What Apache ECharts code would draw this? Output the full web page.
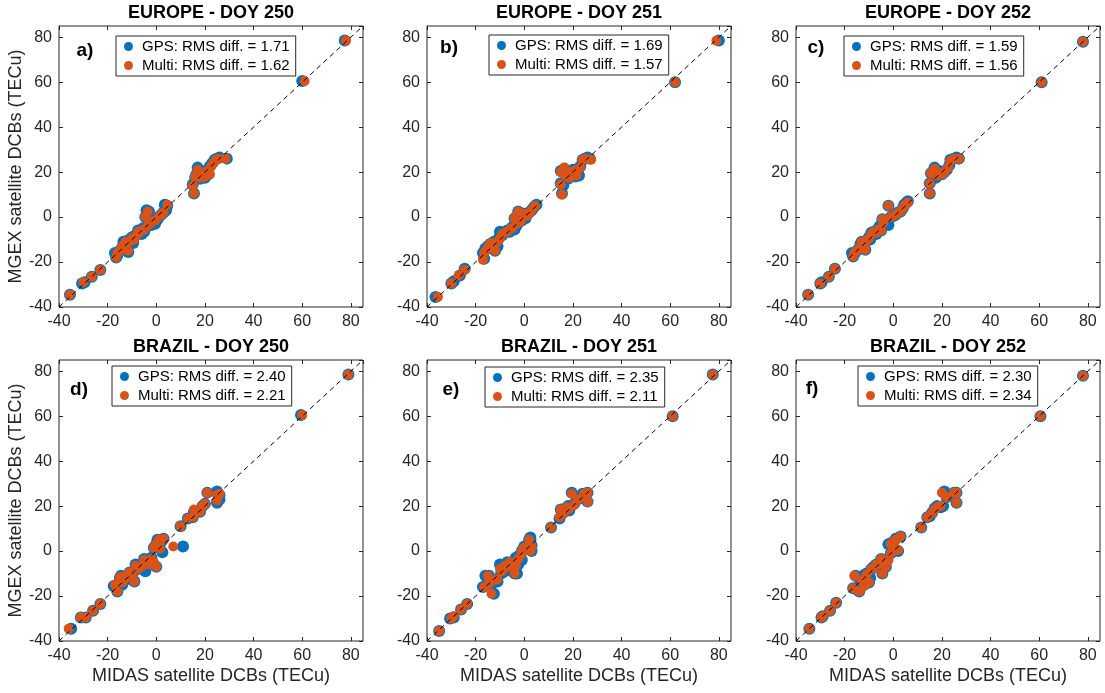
<!DOCTYPE html>
<html>
<head>
<meta charset="utf-8">
<title>Satellite DCB comparison</title>
<script src="https://cdn.jsdelivr.net/npm/echarts@6/dist/echarts.min.js"></script>
<style>
  html, body { margin: 0; padding: 0; background: #ffffff; }
  #chart { width: 1105px; height: 693px; }
</style>
</head>
<body>
<div id="chart"></div>
<script>
// ---- data ---------------------------------------------------------------
const panelTitles = ['EUROPE - DOY 250', 'EUROPE - DOY 251', 'EUROPE - DOY 252',
                     'BRAZIL - DOY 250', 'BRAZIL - DOY 251', 'BRAZIL - DOY 252'];
const panelLetters = ['a)', 'b)', 'c)', 'd)', 'e)', 'f)'];
const rmsGps   = ['1.71', '1.69', '1.59', '2.40', '2.35', '2.30'];
const rmsMulti = ['1.62', '1.57', '1.56', '2.21', '2.11', '2.34'];
const axisMin = -40;
const axisMax = 85;
const axisStep = 20;
const xAxisTitle = 'MIDAS satellite DCBs (TECu)';
const yAxisTitle = 'MGEX satellite DCBs (TECu)';
// 1:1 reference line end points
const diagonal = [-40, 85];

// [MIDAS, MGEX] satellite DCB pairs in TECu
const europe250Gps = [
  [-35.5,-34.5],[-30.5,-29.5],[-29.5,-29],[-26.5,-26.5],[-23,-23.5],
  [-17,-16],[-16.5,-18],[-16,-17],[-15,-15],[-14,-13.5],[-13.5,-11],[-13,-12.5],[-12,-10.5],[-11.5,-15.5],[-11,-12],
  [-10,-9],[-9.5,-11.5],[-9,-8.5],[-8,-7.5],[-7.5,-6],[-7,-7],[-6,-7.5],[-5.5,-5],[-5,-6.5],[-4.5,0],[-4,3],[-3.5,-4],
  [-3,2.5],[-2.5,-3],[-2,-3.5],[-1,-2],[-0.5,-3],[0.5,-1],[1,0],[2,1],[3,2],[3.5,5.5],[4,3],[4.5,5],
  [15,14.5],[15.5,10.5],[16,17.5],[16.5,19],[17,22],[17.5,20],[18,17],[19,18.5],[20,17.5],[21,21],[21.5,19],[22,22.5],
  [23,24],[24,25.5],[25,26],[26,26.5],[29,26],
  [60,60.5],[77.5,78.5]
];
const europe250Multi = [
  [-35.5,-34.5],[-30,-29],[-26.5,-26.5],[-23,-23.5],
  [-16.5,-18],[-16,-16],[-15,-15],[-14,-13],[-13,-12],[-12.5,-11],[-11.5,-15],[-11,-11],[-10,-9.5],[-9,-10],[-8,-8],
  [-7.5,-6.5],[-7,-7],[-6,-6],[-5,-5.5],[-4.5,0],[-3.5,2.5],[-3.5,-4],[-2.5,-3],[-1.5,-2],[-0.5,-1.5],[1,0],[2,1],[3,2],[4.5,5.5],
  [15,14],[15.5,10.5],[16,18],[17,21],[17,19.5],[18,17.5],[19,18],[20,18],[21,20.5],[22,19],[22.5,22.5],[23.5,24],
  [24.5,25.5],[25.5,26],[28.5,26],
  [61,60.5],[78,78.5]
];
const europe251Gps = [
  [-36.5,-35.5],[-30,-29.5],[-29,-28.5],[-26.5,-26],[-24.5,-23],
  [-17,-16],[-16.5,-18.5],[-16,-14],[-15,-13],[-14,-12],[-13.5,-14],[-12.5,-11],[-12,-15],[-11,-13],[-10.5,-9.5],
  [-10,-6.5],[-9,-8],[-8,-7],[-7,-6],[-6,-6.5],[-5,-4.5],[-4,-5.5],[-4,-0.5],[-3,-3.5],[-2.5,2.5],[-2,-2],[-1,-1.5],
  [0,1.5],[0.5,-0.5],[1,1],[2,2],[3,3],[4,4.5],[5,5.5],
  [15,15],[15,20.5],[15.5,10.5],[16,14],[16.5,21.5],[17.5,18],[18,17],[19,19],[20,21],[21,18],[22,20],[22.5,18.5],
  [23,22.5],[24,25.5],[25,26],[26,26.5],[27,26],
  [62,60],[80,78.5]
];
const europe251Multi = [
  [-35.5,-35.5],[-30,-29.5],[-27,-26],[-24.5,-23.5],
  [-17,-19],[-16.5,-16],[-15.5,-14.5],[-14.5,-12.5],[-13.5,-11.5],[-12.5,-13],[-12,-15],[-11,-11],[-10,-9.5],[-9,-7.5],
  [-8,-7],[-7,-6.5],[-6,-5.5],[-5,-5],[-4,-0.5],[-3,-3],[-2.5,2.5],[-1.5,-2],[0,1.5],[1,0.5],[2,1.5],[3,3],[4.5,5],
  [15,14.5],[15,20],[15.5,10],[16.5,22],[17,18.5],[18.5,17.5],[19.5,20],[20.5,20.5],[21.5,18.5],[22,21],[23,22],
  [24,25.5],[25.5,26],[27.5,25.5],
  [62,60],[79,78.5]
];
const europe252Gps = [
  [-35,-34.5],[-30,-29.5],[-29.5,-29],[-26.5,-26.5],[-24,-23],
  [-17,-16],[-16.5,-17.5],[-15.5,-15.5],[-14.5,-14.5],[-13.5,-12],[-13,-11],[-12,-12.5],[-11.5,-14.5],[-11,-10.5],
  [-10,-9],[-9.5,-10],[-9,-7],[-8,-6.5],[-7,-7.5],[-6,-5],[-5.5,-4],[-5,-6],[-4.5,-1],[-4,-2],[-3,-3],[-2,5],[-2,-3.5],
  [-1,0],[0,0.5],[1,1],[2,2],[3,2.5],[4,4],[4.5,5.5],[5.5,6.5],[6,7],
  [15,10.5],[15,15],[15.5,19.5],[16.5,20.5],[17,22],[17.5,17.5],[18,18.5],[19,20.5],[20,19],[21,20],[22,21],[23,23],
  [23.5,25.5],[25,26],[26,26.5],[27,26],
  [61,60],[78,78]
];
const europe252Multi = [
  [-35,-34.5],[-30,-29.5],[-26.5,-26.5],[-24,-23],
  [-16.5,-17.5],[-16,-16],[-15,-15],[-14,-14],[-13,-11],[-12,-12.5],[-11.5,-14.5],[-11,-10.5],[-10,-9.5],[-9,-7.5],
  [-8,-6.5],[-7,-7],[-6,-5.5],[-5,-6],[-4.5,-1],[-4,-2.5],[-2,5],[-1,0],[0,0.5],[1.5,1.5],[3,2.5],[4,4],[5,5.5],[6,6.5],
  [15,10.5],[15,15],[15.5,19.5],[17,21.5],[18,18.5],[19,19.5],[20,19],[21,20],[22.5,22],[23.5,25],[25,26],[27,26],
  [61,60],[78,78]
];
const brazil250Gps = [
  [-35,-34.5],[-31,-29.5],[-29,-29.5],[-26,-26.5],[-23,-23.5],
  [-17.5,-15.5],[-16,-18],[-15,-12],[-14.5,-11],[-14,-15],[-13,-13],[-12,-11],[-11,-9.5],[-10,-11],[-9,-13.5],
  [-8.5,-6],[-7.5,-8],[-6,-7],[-5,-3.5],[-4.5,-9],[-4,-4.5],[-3,-6],[-2,-3],[-1.5,-5],[-1,1.5],[0,-7],[0,3],[0.5,5],
  [1,2],[2,4],[2.5,-0.5],[3,5.5],
  [11,2],
  [10,11],[13,14.5],[15,15],[15.5,17.5],[18,17.5],[19,20],[20,21],[21,26],[25,21.5],[25,26.5],[26,25],[26,23],
  [59.5,60.5],[79,78.5]
];
const brazil250Multi = [
  [-36,-34.5],[-31,-29.5],[-29,-29.5],[-26,-26.5],[-23,-23.5],
  [-17,-15],[-16,-18],[-15,-11.5],[-14,-14],[-13,-12.5],[-12,-10.5],[-11,-9.5],[-10,-11],[-9,-13.5],[-8.5,-6.5],
  [-7.5,-8],[-6,-7],[-5,-4],[-4,-5],[-3,-6],[-2,-3.5],[-1,-5],[0,-7],[-1,1.5],[0,3],[1,5],[1.5,1],[2,4.5],[3,5.5],
  [7,2],
  [10,11],[13,14.5],[15,15],[15.5,18.5],[18,17.5],[19,20],[20,21],[21,26],[25,22.5],[25,25],[26,25.5],
  [60,60.5],[79,78.5]
];
const brazil251Gps = [
  [-35,-35.5],[-30.5,-30],[-29,-29.5],[-26,-26],[-23.5,-23.5],
  [-17,-16],[-16,-11],[-15,-14],[-14.5,-11],[-13.5,-15],[-12.5,-19],[-12,-13],[-11,-13.5],[-10,-6],[-9.5,-10],
  [-9,-8],[-8,-9],[-7,-5],[-6,-7],[-5,-5.5],[-4,-10],[-3.5,-3],[-3,-10],[-2.5,-6],[-2,-2],[-1,-4],[-1,0],[0,2],[1,1],
  [2,5],[2.5,6],[3,0],[3,2.5],
  [11,10.5],
  [14.5,14.5],[15,18.5],[16,17],[17,19],[18,20],[18.5,18],[19.5,26],[20.5,21],[22,23],[24,25.5],[25,25.5],[26,26],[26,22],
  [61,60],[77.5,78.5]
];
const brazil251Multi = [
  [-35,-35.5],[-30,-30],[-29,-29],[-26,-26],[-23.5,-23.5],
  [-16.5,-16],[-15,-11],[-14.5,-14.5],[-13.5,-19],[-12.5,-13],[-11,-12.5],[-10,-8],[-9,-9],[-8,-6.5],[-7,-7],[-6,-5],
  [-5,-5.5],[-4,-10],[-3.5,-6.5],[-2.5,-3.5],[-1.5,-2],[-1,0],[0,1.5],[1,1],[2,5],[2.5,0],[3,2],
  [11,10.5],
  [14.5,15],[15,18.5],[16.5,17],[17.5,19.5],[18.5,19],[19.5,25.5],[20.5,20.5],[22,23],[24.5,25.5],[26,26],[26,22],
  [61,60],[77.5,78.5]
];
const brazil252Gps = [
  [-34.5,-34.5],[-29.5,-29.5],[-29,-29],[-26,-26.5],[-23.5,-23],
  [-16.5,-16.5],[-15.5,-11],[-14,-18],[-13.5,-13],[-12.5,-11],[-12,-15],[-11,-10],[-10,-14],[-9.5,-12],[-9,-8],
  [-8,-7],[-7,-6],[-6,-6],[-5,-3.5],[-4.5,-10],[-4,-5],[-3,-7],[-2.5,-4],[-2,3],[-1,3.5],[-1,-1],[0,0],[0,4],[1,5.5],
  [2,0],[3,6.5],
  [11.5,10.5],
  [14,15],[15,15.5],[16,17],[17,19],[18,20],[19.5,19.5],[21,26.5],[20.5,20],[22,24],[25,26],[26,21.5],[26,26],
  [60.5,60],[78,78]
];
const brazil252Multi = [
  [-34.5,-34.5],[-29.5,-29.5],[-29,-29],[-26,-26.5],[-23.5,-23],
  [-16.5,-16.5],[-16,-11],[-14,-18],[-13,-13],[-12,-15.5],[-11,-10.5],[-10,-14],[-9,-8],[-8,-7.5],[-7,-6],[-6,-5.5],
  [-5,-3.5],[-4.5,-10],[-4,-5],[-3,-7],[-2,-4],[-1,3],[-1,-1],[0,0],[0,4],[1,5],[2,0.5],[3,6.5],
  [11.5,10.5],
  [14,15],[16,17],[17,18.5],[18,19.5],[19.5,20],[20,26],[22,24],[25,26],[26,21.5],[26,26],
  [60.5,60],[78,78]
];

const panelGps   = [europe250Gps, europe251Gps, europe252Gps, brazil250Gps, brazil251Gps, brazil252Gps];
const panelMulti = [europe250Multi, europe251Multi, europe252Multi, brazil250Multi, brazil251Multi, brazil252Multi];

// ---- layout & style -----------------------------------------------------
const FONT = '"Liberation Sans", Arial, Helvetica, sans-serif';
const BLUE = '#0072BD';
const ORANGE = '#D95319';
const INK = '#262626';
const colLeft = [59, 427, 796];
const rowTop = [26, 360];
const boxW = 304;
const boxH = 281;
const legendPos = [[116, 36], [489, 35], [844, 36], [112, 366], [485, 367], [858, 366]];
const letterPos = [[85, 51], [449, 48], [816, 48], [79, 390], [451, 390], [812, 389]];

const grids = [], xAxes = [], yAxes = [], series = [], legends = [], graphics = [];

function valueAxis(extra) {
  return Object.assign({
    type: 'value',
    min: axisMin,
    max: axisMax,
    interval: axisStep,
    splitLine: { show: false },
    axisTick: { inside: true, length: 4, lineStyle: { color: INK, width: 1 } },
    axisLine: { show: false, onZero: false },
    axisLabel: { show: false }
  }, extra);
}

for (let i = 0; i < 6; i++) {
  const row = Math.floor(i / 3), col = i % 3;
  const left = colLeft[col], top = rowTop[row];
  grids.push({
    left: left, top: top, width: boxW, height: boxH,
    show: true, borderColor: INK, borderWidth: 1, backgroundColor: '#fff'
  });

  const tickLabel = {
    show: true, color: INK, fontFamily: FONT, fontSize: 16, margin: 7,
    showMaxLabel: false
  };
  xAxes.push(valueAxis({
    gridIndex: i, position: 'bottom', axisLabel: tickLabel,
    name: row === 1 ? xAxisTitle : '',
    nameLocation: 'middle', nameGap: 26,
    nameTextStyle: { color: INK, fontFamily: FONT, fontSize: 18 }
  }));
  xAxes.push(valueAxis({ gridIndex: i, position: 'top' }));
  yAxes.push(valueAxis({
    gridIndex: i, position: 'left', axisLabel: tickLabel,
    name: col === 0 ? yAxisTitle : '',
    nameLocation: 'middle', nameGap: 31,
    nameTextStyle: { color: INK, fontFamily: FONT, fontSize: 18 }
  }));
  yAxes.push(valueAxis({ gridIndex: i, position: 'right' }));

  const gpsName = 'GPS: RMS diff. = ' + rmsGps[i];
  const multiName = 'Multi: RMS diff. = ' + rmsMulti[i];

  series.push({
    name: gpsName, type: 'scatter', xAxisIndex: 2 * i, yAxisIndex: 2 * i,
    data: panelGps[i], symbol: 'circle', symbolSize: 12,
    itemStyle: { color: BLUE, opacity: 1 }, z: 2
  });
  series.push({
    name: multiName, type: 'scatter', xAxisIndex: 2 * i, yAxisIndex: 2 * i,
    data: panelMulti[i], symbol: 'circle', symbolSize: 10,
    itemStyle: { color: ORANGE, opacity: 1 }, z: 3
  });
  series.push({
    name: 'one-to-one ' + i, type: 'line', xAxisIndex: 2 * i, yAxisIndex: 2 * i,
    data: [[diagonal[0], diagonal[0]], [diagonal[1], diagonal[1]]],
    symbol: 'none', silent: true,
    lineStyle: { color: '#000', width: 1, type: [5, 4] }, z: 4
  });

  legends.push({
    data: [gpsName, multiName],
    left: legendPos[i][0], top: legendPos[i][1],
    orient: 'vertical',
    backgroundColor: '#fff', borderColor: INK, borderWidth: 1, borderRadius: 0,
    padding: [2, 6, 2, 8], itemGap: 2,
    icon: 'circle', itemWidth: 9, itemHeight: 9,
    selectedMode: false,
    textStyle: { color: '#000', fontFamily: FONT, fontSize: 15, lineHeight: 17, padding: [0, 0, 0, 4] }
  });

  graphics.push({
    type: 'text', x: left + boxW / 2, y: top - 13,
    style: { text: panelTitles[i], font: 'bold 18px ' + FONT, fill: '#000',
             align: 'center', verticalAlign: 'middle' }
  });
  graphics.push({
    type: 'text', x: letterPos[i][0], y: letterPos[i][1],
    style: { text: panelLetters[i], font: 'bold 19px ' + FONT, fill: '#000',
             align: 'center', verticalAlign: 'middle' }
  });
}

const chart = echarts.init(document.getElementById('chart'), null, { renderer: 'canvas' });
chart.setOption({
  backgroundColor: '#ffffff',
  animation: false,
  grid: grids,
  xAxis: xAxes,
  yAxis: yAxes,
  legend: legends,
  series: series,
  graphic: graphics
});
</script>
</body>
</html>
